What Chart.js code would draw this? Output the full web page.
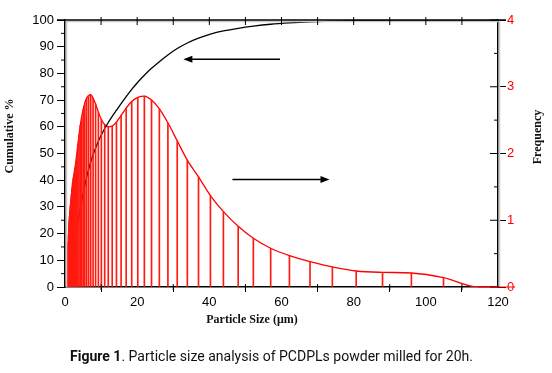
<!DOCTYPE html>
<html>
<head>
<meta charset="utf-8">
<script src="https://cdn.jsdelivr.net/npm/chart.js@4.4.1/dist/chart.umd.min.js"></script>
<style>
  html, body { margin: 0; padding: 0; background: #fff; }
  #wrap { position: relative; width: 552px; height: 373px; }
  #caption { position: absolute; left: 70px; top: 347px; font-family: Roboto; font-size: 15px; color: #111; white-space: nowrap; transform-origin: 0 0; }
</style>
</head>
<body>
<div id="wrap">
  <canvas id="myChart" width="552" height="373"></canvas>
  <div id="caption"><b>Figure 1</b>. Particle size analysis of PCDPLs powder milled for 20h.</div>
</div>
<script>
/*** DATA ***/
// particle size bins (µm)
const sizeBins = [0.41, 0.45, 0.49, 0.53, 0.58, 0.63, 0.69, 0.75, 0.82, 0.89,
  0.97, 1.06, 1.16, 1.26, 1.37, 1.50, 1.63, 1.78, 1.94, 2.12,
  2.31, 2.52, 2.75, 3.00, 3.27, 3.57, 3.89, 4.24, 4.63, 5.04,
  5.50, 6.00, 6.54, 7.13, 7.78, 8.48, 9.25, 10.08, 11.00, 11.99,
  13.08, 14.26, 15.55, 16.96, 18.49, 20.17, 21.99, 23.98, 26.15, 28.52,
  31.10, 33.90, 37.00, 40.30, 43.90, 48.00, 52.20, 57.00, 62.20, 67.90,
  74.10, 80.70, 88.00, 96.00, 104.9, 114.4, 120];
// frequency (right axis)
const frequency = [0.00, 0.10, 0.18, 0.26, 0.33, 0.40, 0.47, 0.53, 0.60, 0.67,
  0.78, 0.88, 0.98, 1.06, 1.14, 1.22, 1.30, 1.38, 1.47, 1.56,
  1.63, 1.70, 1.78, 1.88, 2.00, 2.14, 2.28, 2.42, 2.55, 2.66,
  2.76, 2.83, 2.87, 2.88, 2.83, 2.74, 2.62, 2.51, 2.43, 2.40,
  2.41, 2.47, 2.57, 2.68, 2.78, 2.84, 2.86, 2.80, 2.67, 2.46,
  2.19, 1.90, 1.65, 1.37, 1.13, 0.91, 0.73, 0.58, 0.47, 0.38,
  0.30, 0.24, 0.22, 0.21, 0.14, 0.00, 0.00];
// cumulative % (left axis)
const cumulative = [0.0, 0.1, 0.2, 0.4, 0.6, 0.9, 1.2, 1.6, 2.1, 2.6,
  3.2, 3.9, 4.7, 5.6, 6.6, 7.7, 8.9, 10.2, 11.6, 13.1,
  14.7, 16.4, 18.2, 20.1, 22.2, 24.5, 26.9, 29.5, 32.3, 35.1,
  38.1, 41.1, 44.0, 46.8, 49.5, 52.1, 54.6, 57.0, 59.3, 61.6,
  63.9, 66.2, 68.7, 71.3, 74.0, 76.7, 79.3, 81.9, 84.4, 86.9,
  89.3, 91.4, 93.2, 94.7, 95.9, 96.9, 97.7, 98.4, 98.9, 99.3,
  99.6, 99.8, 99.9, 100, 100, 100, 100];

// tick values
const xTickValues = [0, 20, 40, 60, 80, 100, 120];
const xMinorValues = [10, 30, 50, 70, 90, 110];
const topTickValues = [10, 20, 30, 40, 50, 60, 70, 80, 90, 100, 110];
const cumTickValues = [0, 10, 20, 30, 40, 50, 60, 70, 80, 90, 100];
const cumMinorValues = [5, 15, 25, 35, 45, 55, 65, 75, 85, 95];
const freqTickValues = [0, 1, 2, 3, 4];
const freqMinorValues = [0.5, 1.5, 2.5, 3.5];

const toPoints = (ys) => sizeBins.map((v, i) => ({x: v, y: ys[i]}));
const setTicks = (vals) => (s) => { s.ticks = vals.map(v => ({value: v})); };

/*** extra axis bits, arrows and titles ***/
const decorations = {
    id: 'decorations',
    afterDraw(chart) {
        const {ctx, chartArea: a, scales: {x, y, y2}} = chart;
        const line = (x1, y1, x2, y2_) => { ctx.beginPath(); ctx.moveTo(x1, y1); ctx.lineTo(x2, y2_); ctx.stroke(); };
        ctx.save();
        // light shadow along frame
        ctx.strokeStyle = '#c9c9c9'; ctx.lineWidth = 1.5;
        line(a.left + 1.5, a.top + 1.5, a.left + 1.5, a.bottom);
        line(a.left + 1.5, a.top + 1.5, a.right, a.top + 1.5);
        line(a.right + 1.5, a.top, a.right + 1.5, a.bottom);
        // top frame line
        ctx.strokeStyle = '#000'; ctx.lineWidth = 1.5;
        line(a.left - 8, a.top, a.right + 8, a.top);
        ctx.lineWidth = 1;
        topTickValues.forEach(v => { const p = x.getPixelForValue(v); line(p, a.top - 3, p, a.top + 5); });
        xMinorValues.forEach(v => { const p = x.getPixelForValue(v); line(p, a.bottom - 3, p, a.bottom + 3); });
        cumMinorValues.forEach(v => { const p = y.getPixelForValue(v); line(a.left - 4, p, a.left, p); });
        freqTickValues.forEach(v => { const p = y2.getPixelForValue(v); line(a.right - 8, p, a.right, p); });
        freqMinorValues.forEach(v => { const p = y2.getPixelForValue(v); line(a.right - 4, p, a.right, p); });
        // red zero line on right axis
        ctx.strokeStyle = 'rgb(255,0,0)'; ctx.lineWidth = 1.2;
        const z = y2.getPixelForValue(0);
        line(a.right - 20, z, a.right + 17, z);

        // arrows
        ctx.strokeStyle = '#000'; ctx.fillStyle = '#000'; ctx.lineWidth = 1.5;
        const arrow = (fromX, toX, atY) => {
            const x1 = x.getPixelForValue(fromX), x2 = x.getPixelForValue(toX), py = y.getPixelForValue(atY);
            const dir = Math.sign(x2 - x1);
            line(x1, py, x2 - dir * 6, py);
            ctx.beginPath();
            ctx.moveTo(x2, py);
            ctx.lineTo(x2 - dir * 9, py - 3.5);
            ctx.lineTo(x2 - dir * 9, py + 3.5);
            ctx.closePath();
            ctx.fill();
        };
        arrow(59.6, 32.8, 85.3);
        arrow(46.4, 73.3, 40.3);

        // axis titles
        ctx.fillStyle = '#111';
        ctx.font = 'bold 12px "Liberation Serif"';
        ctx.textAlign = 'center'; ctx.textBaseline = 'middle';
        ctx.fillText('Particle Size (μm)', 252, 320);
        ctx.save(); ctx.translate(10, 136); ctx.rotate(-Math.PI / 2); ctx.fillText('Cumulative %', 0, 0); ctx.restore();
        ctx.save(); ctx.translate(538, 137); ctx.rotate(-Math.PI / 2); ctx.fillText('Frequency', 0, 0); ctx.restore();
        ctx.restore();
    }
};

const tickFont = {family: 'Liberation Sans', size: 13};
const ctx = document.getElementById('myChart');

new Chart(ctx, {
    type: 'line',
    data: {
        datasets: [{
            type: 'bar',
            label: 'Frequency bins',
            data: toPoints(frequency),
            yAxisID: 'y2',
            backgroundColor: 'rgb(255,25,15)',
            borderWidth: 0,
            barThickness: 1,
            order: 0
        }, {
            label: 'Cumulative',
            data: toPoints(cumulative),
            yAxisID: 'y',
            borderColor: '#000',
            borderWidth: 1.3,
            pointRadius: 0,
            cubicInterpolationMode: 'monotone',
            order: 1
        }, {
            label: 'Frequency',
            data: toPoints(frequency),
            yAxisID: 'y2',
            borderColor: 'rgb(255,0,0)',
            borderWidth: 1.3,
            pointRadius: 0,
            cubicInterpolationMode: 'monotone',
            order: 2
        }]
    },
    options: {
        responsive: false,
        animation: false,
        events: [],
        layout: {padding: {top: 20, left: 0, right: 0, bottom: 0}},
        plugins: {legend: {display: false}, tooltip: {enabled: false}},
        scales: {
            x: {
                type: 'linear', min: 0, max: 120, offset: false,
                afterBuildTicks: setTicks(xTickValues),
                afterFit: (s) => { s.height = 86; },
                ticks: {font: tickFont, color: '#000', padding: 3, maxRotation: 0},
                grid: {drawOnChartArea: false, color: '#000', tickLength: 5},
                border: {color: '#000', width: 1.5}
            },
            y: {
                position: 'left', min: 0, max: 100,
                afterBuildTicks: setTicks(cumTickValues),
                afterFit: (s) => { s.width = 65; },
                ticks: {font: tickFont, color: '#000', padding: 3},
                grid: {drawOnChartArea: false, color: '#000', tickLength: 8},
                border: {color: '#000', width: 1.5}
            },
            y2: {
                position: 'right', min: 0, max: 4,
                afterBuildTicks: setTicks(freqTickValues),
                afterFit: (s) => { s.width = 54; },
                ticks: {font: tickFont, color: 'rgb(255,0,0)', padding: 1},
                grid: {drawOnChartArea: false, color: '#000', tickLength: 8},
                border: {color: '#000', width: 1.5}
            }
        }
    },
    plugins: [decorations]
});

// squeeze the caption to the width it has in the figure
const cap = document.getElementById('caption');
cap.style.transform = 'scaleX(' + (403 / cap.getBoundingClientRect().width) + ')';
</script>
</body>
</html>
